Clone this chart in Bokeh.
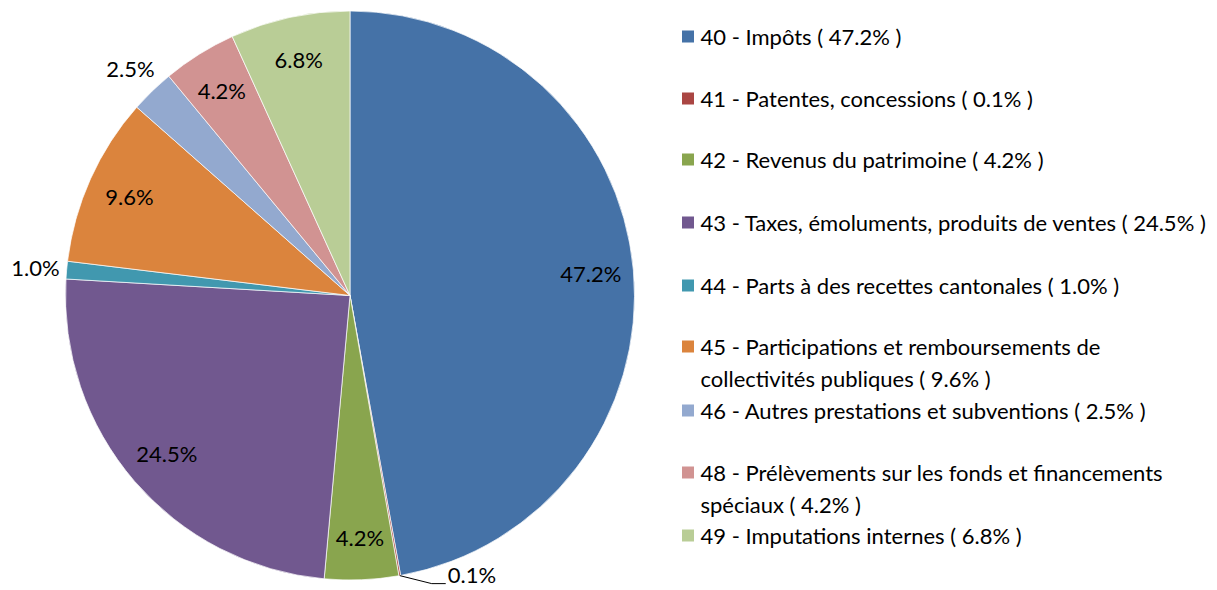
import math
import textwrap
from bokeh.plotting import figure
from bokeh.models import Range1d
from bokeh.core.properties import value
from bokeh.embed import file_html
from bokeh.resources import INLINE

# ---------------- data ----------------
codes = ["40", "41", "42", "43", "44", "45", "46", "48", "49"]
names = [
    "Impôts",
    "Patentes, concessions",
    "Revenus du patrimoine",
    "Taxes, émoluments, produits de ventes",
    "Parts à des recettes cantonales",
    "Participations et remboursements de collectivités publiques",
    "Autres prestations et subventions",
    "Prélèvements sur les fonds et financements spéciaux",
    "Imputations internes",
]
shares = [47.2, 0.1, 4.2, 24.5, 1.0, 9.6, 2.5, 4.2, 6.8]
colors = ["#4572A7", "#AA4643", "#89A54E", "#71588F", "#4198AF",
          "#DB843D", "#93A9CF", "#D19392", "#B9CD96"]

# ---------------- layout ----------------
W, H = 1215, 590
FONT = "Lato"
FS = "22px"

def Y(sy):  # screen y -> data y
    return 590 - sy

p = figure(width=W, height=H, x_range=Range1d(0, W), y_range=Range1d(590 - H, 590),
           output_backend="svg", toolbar_location=None, min_border=0,
           x_axis_type=None, y_axis_type=None)
p.grid.visible = False
p.outline_line_color = None
p.background_fill_color = "white"
p.border_fill_color = "white"

cx, cy, R = 349.5, Y(295), 284.5
total = sum(shares)

starts, ends, mids = [], [], []
cum = 0.0
for s in shares:
    a0 = math.pi / 2 - 2 * math.pi * cum / total
    cum += s
    a1 = math.pi / 2 - 2 * math.pi * cum / total
    starts.append(a0)
    ends.append(a1)
    mids.append((a0 + a1) / 2)

p.wedge(x=[cx] * len(shares), y=[cy] * len(shares), radius=R,
        start_angle=starts, end_angle=ends, direction="clock",
        fill_color=colors, line_color="white", line_width=0.7)

# data labels
in_x, in_y, in_t = [], [], []
out_x, out_y, out_t = [], [], []
for s, m in zip(shares, mids):
    lab = f"{s:.1f}%"
    if s >= 4:
        r = 0.85 * R
        in_x.append(cx + r * math.cos(m)); in_y.append(cy + r * math.sin(m)); in_t.append(lab)
    elif s >= 0.5:
        r = 1.11 * R
        out_x.append(cx + r * math.cos(m)); out_y.append(cy + r * math.sin(m)); out_t.append(lab)
    else:
        ex, ey = cx + R * math.cos(m), cy + R * math.sin(m)
        lx = [ex, ex + 32, ex + 46]
        ly = [ey, ey - 8, ey - 8]
        p.line(lx, ly, line_color="black", line_width=1)
        p.text(x=[ex + 48], y=[ey + 1], text=[lab], text_font=value(FONT),
               text_font_size=FS, text_align="left", text_baseline="middle",
               text_color="black")

p.text(x=in_x, y=in_y, text=in_t, text_font=value(FONT), text_font_size=FS,
       text_align="center", text_baseline="middle", text_color="black")
p.text(x=out_x, y=out_y, text=out_t, text_font=value(FONT), text_font_size=FS,
       text_align="center", text_baseline="middle", text_color="black")

# legend
legend_line_y = [36, 98, 159, 222, 285, 346, 410, 472, 535]
line_step = 32
sq_x, sq_y, tx, ty, tt = [], [], [], [], []
for c, n, s, col, ly in zip(codes, names, shares, colors, legend_line_y):
    label = f"{c} - {n} ( {s:.1f}% )"
    lines = textwrap.wrap(label, 53)
    sq_x.append(687.5); sq_y.append(Y(ly))
    for i, ln in enumerate(lines):
        tx.append(700); ty.append(Y(ly + i * line_step)); tt.append(ln)

p.rect(x=sq_x, y=sq_y, width=12, height=12, fill_color=colors, line_color=None)
p.text(x=tx, y=ty, text=tt, text_font=value(FONT), text_font_size=FS,
       text_align="left", text_baseline="middle", text_color="black")

open("out.html", "w").write(file_html(p, INLINE))
